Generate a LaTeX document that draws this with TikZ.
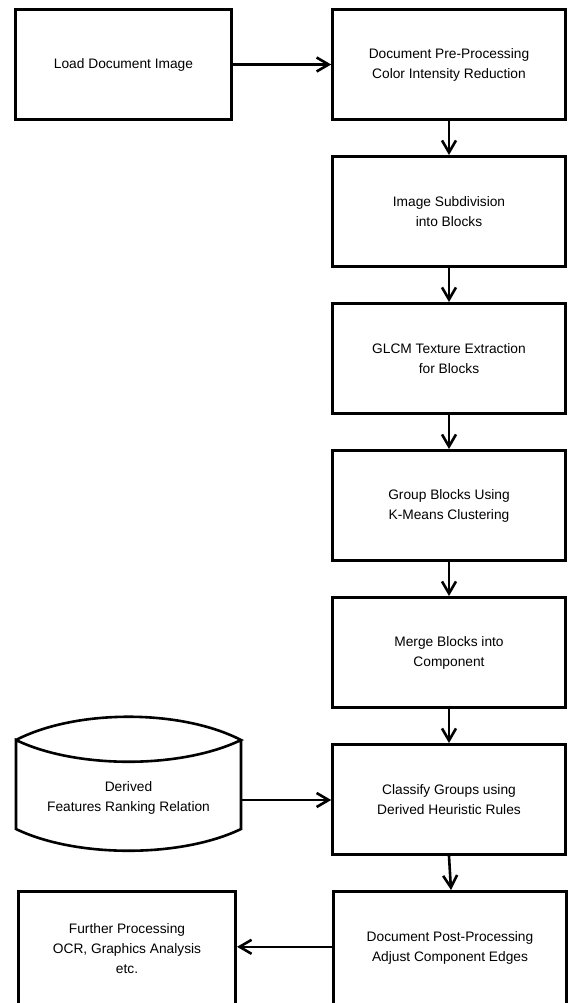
\documentclass[tikz,border=0pt]{standalone}
\usepackage{fontspec}
\setmainfont{Liberation Sans}
\usetikzlibrary{arrows.meta}
\begin{document}
\begin{tikzpicture}[x=1bp,y=-1bp,line width=2.6bp,
  txt/.style={inner sep=0pt,align=center,font=\fontsize{13.8}{20}\selectfont},
  box/.style={txt,draw,rectangle,minimum width=233bp,minimum height=110.4bp},
  flow/.style={-{Straight Barb[length=12bp,width=14bp]}}]
\useasboundingbox (0,0) rectangle (568,1003);
% left column
\node[box,minimum width=216.4bp] (load) at (123.5,64.5) {Load Document Image};
% right column
\node[box] (pre) at (449,64.5) {Document Pre-Processing\\Color Intensity Reduction};
\node[box] (sub) at (449,211.5) {Image Subdivision\\into Blocks};
\node[box] (glcm) at (449,358.5) {GLCM Texture Extraction\\for Blocks};
\node[box] (grp) at (449,505.5) {Group Blocks Using\\K-Means Clustering};
\node[box] (mrg) at (449,652.5) {Merge Blocks into\\Component};
\node[box] (cls) at (449,799.5) {Classify Groups using\\Derived Heuristic Rules};
\node[box,minimum height=114bp] (post) at (450,948.3) {Document Post-Processing\\Adjust Component Edges};
\node[box,minimum width=217.4bp,minimum height=114bp] (fur) at (127,948.3) {Further Processing\\OCR, Graphics Analysis\\etc.};
% stored data shape
\node[txt] (drv) at (128.5,797.5) {Derived\\Features Ranking Relation};
\draw[line join=miter] (16,740) .. controls (76,709) and (181,709) .. (241,740)
   .. controls (181,769) and (76,769) .. (16,740) -- (16,829)
   .. controls (76,858) and (181,858) .. (241,829) -- (241,740);
\coordinate (drvout) at (241,800);
\coordinate (postout) at ([yshift=1.5bp]post.west);
% connectors
\draw[flow] (load) -- (pre);
\draw[flow] (pre) -- (sub);
\draw[flow] (sub) -- (glcm);
\draw[flow] (glcm) -- (grp);
\draw[flow] (grp) -- (mrg);
\draw[flow] (mrg) -- (cls);
\draw[flow] (drvout) -- (cls.west |- drvout);
\draw[flow] (cls.south) -- ([xshift=1bp]post.north);
\draw[flow] (postout) -- (fur.east |- postout);
\end{tikzpicture}
\end{document}
